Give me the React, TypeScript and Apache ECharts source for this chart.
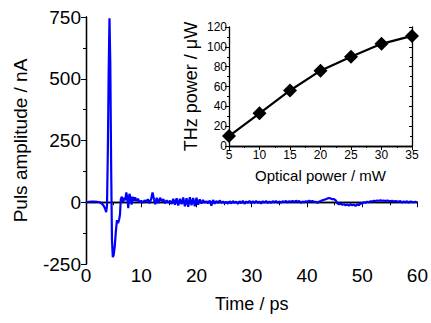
import React, { useEffect, useRef } from "react";
import * as echarts from "echarts";

// Main waveform: [time (ps), pulse amplitude (nA)]
const pulseData: [number, number][] = [
  [0, 0], [0.5, 2], [1, 3], [1.5, 3], [2, 2], [2.5, 0], [2.9, -6], [3.2, -14], [3.5, -28], [3.65, -40], [3.8, -15],
  [3.95, 200], [4.1, 520], [4.25, 745], [4.4, 560], [4.55, 150], [4.7, -150], [4.85, -222], [5.0, -215], [5.2, -180],
  [5.4, -120], [5.6, -72], [5.8, -85], [6.0, -70], [6.15, -50], [6.3, 12], [6.5, 22], [6.7, 2], [6.9, 18], [7.1, 8],
  [7.3, 40], [7.5, 15], [7.65, -24], [7.85, 34], [8.05, 22], [8.25, -10], [8.45, 22], [8.7, 6], [8.9, 20], [9.1, 5],
  [9.4, 14], [9.7, 0], [10.0, 6], [10.3, -2], [10.6, 8], [10.9, 3], [11.2, 12], [11.5, -4], [11.8, 14], [12.05, 40],
  [12.3, 12], [12.55, -8], [12.8, 18], [13.1, -4], [13.4, 18], [13.7, 4], [14.0, 12], [14.3, -4], [14.6, 8], [14.9, -2],
  [15.2, 6], [15.5, -7], [15.8, 14], [16.1, -10], [16.4, 16], [16.7, -13], [17.0, 14], [17.3, -8], [17.6, 19], [17.9, -16],
  [18.2, 16], [18.5, -18], [18.8, 20], [19.1, -12], [19.4, 17], [19.7, -16], [20.0, 18], [20.3, -10], [20.6, 12], [20.9, -5],
  [21.2, 9], [21.5, -2], [21.8, 4], [22.1, -4], [22.4, 7], [22.7, -14], [23.0, 9], [23.3, -6], [23.6, 5], [23.9, -3],
  [24.2, 7], [24.5, -2], [24.8, 3], [25.1, -4], [25.4, 2], [25.7, -6], [26.0, 4], [26.3, -5], [26.6, 5], [26.9, -3],
  [27.2, 3], [27.5, -7], [27.8, 4], [28.1, -4], [28.4, 6], [28.7, -6], [29.0, 3], [29.3, -2], [29.6, 5], [29.9, -4],
  [30.2, 4], [30.5, -3], [30.8, 5], [31.1, -2], [31.4, 3], [31.7, -5], [32.0, 4], [32.3, -1], [32.6, 5], [32.9, -3],
  [33.2, 3], [33.5, -2], [33.8, 4], [34.1, 0], [34.4, 5], [34.7, -2], [35.0, 3], [35.3, -1], [35.6, 4], [35.9, 1],
  [36.2, 5], [36.5, 0], [36.8, 4], [37.1, 2], [37.4, 5], [37.7, 1], [38.0, 6], [38.3, 2], [38.6, 5], [38.9, -2],
  [39.2, 3], [39.5, 0], [39.8, 4], [40.1, 2], [40.4, 6], [40.7, 3], [41.0, 5], [41.3, 1], [41.6, 2], [41.9, -2],
  [42.2, 3], [42.5, 5], [42.8, 8], [43.1, 10], [43.4, 12], [43.7, 15], [44.0, 17], [44.3, 15], [44.6, 12], [44.9, 13],
  [45.2, 8], [45.5, -4], [45.8, -8], [46.1, -6], [46.4, -10], [46.7, -8], [47.0, -12], [47.3, -9], [47.6, -14], [47.9, -8],
  [48.2, -12], [48.5, -10], [48.8, -15], [49.1, -8], [49.4, -12], [49.7, -4], [50.0, -6], [50.3, 0], [50.6, -2], [50.9, 2],
  [51.2, 0], [51.5, 4], [51.8, 3], [52.1, 6], [52.4, 5], [52.7, 7], [53.0, 6], [53.3, 8], [53.6, 6], [53.9, 7],
  [54.2, 5], [54.5, 7], [54.8, 6], [55.1, 4], [55.4, 6], [55.7, 3], [56.0, 5], [56.3, 4], [56.6, 2], [56.9, 5],
  [57.2, -1], [57.5, 3], [57.8, 0], [58.1, 4], [58.4, -1], [58.7, 3], [59.0, 2], [59.3, 0], [59.6, 2], [60.0, 0],
];

// Inset: THz power vs optical power
const opticalPower = [5, 10, 15, 20, 25, 30, 35];
const thzPower = [10, 33, 56, 76, 90, 103, 111];

const FONT = "'Liberation Sans', Arial, sans-serif";

export default function App() {
  const ref = useRef<HTMLDivElement>(null);
  useEffect(() => {
    if (!ref.current) return;
    const chart = echarts.init(ref.current, null, { renderer: "svg" });
    const axisLine = { show: true, lineStyle: { color: "#000", width: 1.3 } };
    const option: any = {
      animation: false,
      backgroundColor: "#fff",
      textStyle: { fontFamily: FONT },
      grid: [
        { left: 86, right: 8, top: 17, bottom: 59 },
        { left: 229, right: 19, top: 27, bottom: 177, backgroundColor: "#fff", show: true, borderWidth: 0 },
      ],
      xAxis: [
        {
          gridIndex: 0, type: "value", min: 0, max: 60, interval: 10,
          name: "Time / ps", nameLocation: "middle", nameGap: 31,
          nameTextStyle: { fontSize: 18, color: "#000", fontFamily: FONT },
          axisLine, axisTick: { show: true, length: 5, lineStyle: { color: "#000" } },
          minorTick: { show: true, splitNumber: 2, length: 3, lineStyle: { color: "#000" } },
          axisLabel: { fontSize: 19, color: "#000", margin: 2, fontFamily: FONT },
          splitLine: { show: false },
        },
        {
          gridIndex: 0, type: "value", min: 0, max: 60, interval: 10, position: "top",
          axisLine, axisTick: { show: true, inside: true, length: 4, lineStyle: { color: "#000" } },
          minorTick: { show: false }, axisLabel: { show: false }, splitLine: { show: false },
        },
        {
          gridIndex: 1, type: "value", min: 5, max: 35, interval: 5,
          name: "Optical power / mW", nameLocation: "middle", nameGap: 22,
          nameTextStyle: { fontSize: 15, color: "#000", fontFamily: FONT },
          axisLine, axisTick: { show: true, length: 4, lineStyle: { color: "#000" } },
          minorTick: { show: true, splitNumber: 2, length: 2, lineStyle: { color: "#000" } },
          axisLabel: { fontSize: 12, color: "#000", margin: 3, fontFamily: FONT },
          splitLine: { show: false },
        },
        {
          gridIndex: 1, type: "value", min: 5, max: 35, interval: 5, position: "top",
          axisLine, axisTick: { show: true, inside: true, length: 3, lineStyle: { color: "#000" } },
          minorTick: { show: true, splitNumber: 2, length: 2, lineStyle: { color: "#000" } },
          axisLabel: { show: false }, splitLine: { show: false },
        },
      ],
      yAxis: [
        {
          gridIndex: 0, type: "value", min: -250, max: 750, interval: 250,
          name: "Puls amplitude / nA", nameLocation: "middle", nameGap: 56,
          nameTextStyle: { fontSize: 19, color: "#000", fontFamily: FONT },
          axisLine, axisTick: { show: true, length: 5, lineStyle: { color: "#000" } },
          minorTick: { show: true, splitNumber: 2, length: 3, lineStyle: { color: "#000" } },
          axisLabel: { fontSize: 19, color: "#000", margin: 5, fontFamily: FONT },
          splitLine: { show: false },
        },
        {
          gridIndex: 0, type: "value", min: -250, max: 750, interval: 250, position: "right",
          axisLine, axisTick: { show: true, inside: true, length: 4, lineStyle: { color: "#000" } },
          minorTick: { show: false }, axisLabel: { show: false }, splitLine: { show: false },
        },
        {
          gridIndex: 1, type: "value", min: 0, max: 120, interval: 20,
          name: "THz power / μW", nameLocation: "middle", nameGap: 29,
          nameTextStyle: { fontSize: 18, color: "#000", fontFamily: FONT },
          axisLine, axisTick: { show: true, length: 4, lineStyle: { color: "#000" } },
          minorTick: { show: true, splitNumber: 2, length: 2, lineStyle: { color: "#000" } },
          axisLabel: { fontSize: 12, color: "#000", margin: 2, fontFamily: FONT },
          splitLine: { show: false },
        },
        {
          gridIndex: 1, type: "value", min: 0, max: 120, interval: 20, position: "right",
          axisLine, axisTick: { show: true, inside: true, length: 3, lineStyle: { color: "#000" } },
          minorTick: { show: true, splitNumber: 2, length: 2, lineStyle: { color: "#000" } },
          axisLabel: { show: false }, splitLine: { show: false },
        },
      ],
      series: [
        {
          type: "line", xAxisIndex: 0, yAxisIndex: 0, data: pulseData,
          showSymbol: false, symbol: "none", lineStyle: { color: "#0000ff", width: 2.2 },
          z: 2,
        },
        {
          type: "line", xAxisIndex: 2, yAxisIndex: 2,
          data: opticalPower.map((x, i) => [x, thzPower[i]]),
          symbol: "diamond", symbolSize: 14, showSymbol: true,
          itemStyle: { color: "#000" }, lineStyle: { color: "#000", width: 2.2 },
          clip: false, z: 5,
        },
      ],
    };
    chart.setOption(option);
    return () => chart.dispose();
  }, []);
  return (
    <div
      ref={ref}
      style={{ position: "fixed", left: 0, top: 0, width: 431, height: 323, background: "#fff" }}
    />
  );
}
